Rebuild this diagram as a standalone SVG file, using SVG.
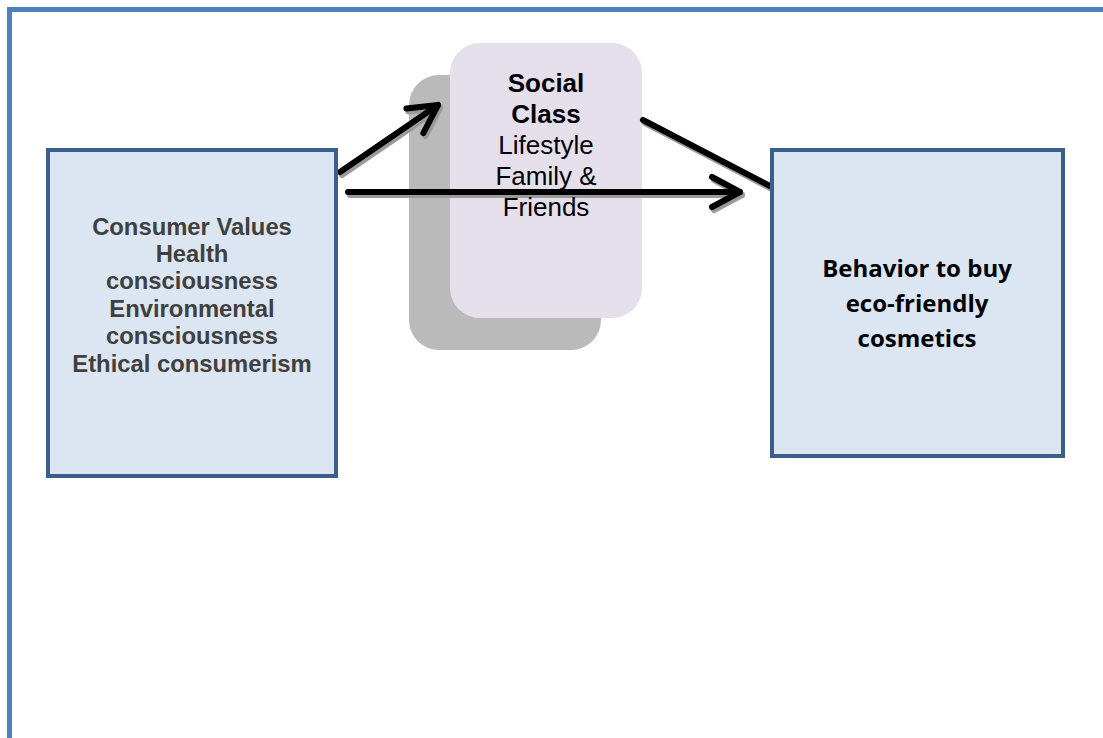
<svg xmlns="http://www.w3.org/2000/svg" width="1103" height="738" viewBox="0 0 1103 738">
<style>
.box{fill:#dce6f2;stroke:#3b5e8c;stroke-width:4}
.conn{fill:none;stroke:#000;stroke-width:6;stroke-linecap:round;stroke-linejoin:round}
.shadow{fill:none;stroke:#9a9a9a;stroke-width:6;stroke-linecap:round;stroke-linejoin:round}
.lt{font-family:"Liberation Sans",Arial,sans-serif;font-weight:bold;font-size:23.8px;fill:#404040;text-anchor:middle}
.st{font-family:"Liberation Sans",Arial,sans-serif;font-size:26px;fill:#000;text-anchor:middle}
.rt{font-family:"Open Sans",Lato,sans-serif;font-weight:bold;font-size:24px;fill:#000;text-anchor:middle}
</style>
<defs>
<marker id="ah" markerUnits="userSpaceOnUse" markerWidth="60" markerHeight="60" refX="0" refY="0" viewBox="-40 -30 60 60" orient="auto" overflow="visible">
<path d="M-28,-15 L0,0 L-28,15" fill="none" stroke="#000" stroke-width="6" stroke-linecap="round" stroke-linejoin="round"/>
</marker>
<marker id="ahs" markerUnits="userSpaceOnUse" markerWidth="60" markerHeight="60" refX="0" refY="0" viewBox="-40 -30 60 60" orient="auto" overflow="visible">
<path d="M-28,-15 L0,0 L-28,15" fill="none" stroke="#9a9a9a" stroke-width="6" stroke-linecap="round" stroke-linejoin="round"/>
</marker>
</defs>
<rect width="1103" height="738" fill="#fff"/>
<rect x="9.5" y="9.5" width="1110" height="740" fill="none" stroke="#4f81bd" stroke-width="5"/>
<g id="social">
<rect x="409" y="75" width="192" height="275" rx="30" fill="#bababa"/>
<rect x="450" y="43" width="192" height="275" rx="30" fill="#e5dfec"/>
</g>
<g id="connectors">
<g transform="translate(2,3)">
<path class="shadow" d="M340,172 L438,105" marker-end="url(#ahs)"/>
<path class="shadow" d="M348,192 L740,192" marker-end="url(#ahs)"/>
<path class="shadow" d="M643,120 L770,186"/>
</g>
<path class="conn" d="M340,172 L438,105" marker-end="url(#ah)"/>
<path class="conn" d="M348,192 L740,192" marker-end="url(#ah)"/>
<path class="conn" d="M643,120 L770,186"/>
</g>
<g id="social-text">
<text class="st" x="546" y="92" font-weight="bold">Social</text>
<text class="st" x="546" y="123" font-weight="bold">Class</text>
<text class="st" x="546" y="154">Lifestyle</text>
<text class="st" x="546" y="185">Family &amp;</text>
<text class="st" x="546" y="216">Friends</text>
</g>
<g id="consumer">
<rect class="box" x="48" y="150" width="288" height="326"/>
<text class="lt" x="192" y="235">Consumer Values</text>
<text class="lt" x="192" y="262">Health</text>
<text class="lt" x="192" y="289">consciousness</text>
<text class="lt" x="192" y="317">Environmental</text>
<text class="lt" x="192" y="344">consciousness</text>
<text class="lt" x="192" y="372">Ethical consumerism</text>
</g>
<g id="behavior">
<rect class="box" x="772" y="150" width="291" height="306"/>
<text class="rt" x="917" y="277">Behavior to buy</text>
<text class="rt" x="917" y="312">eco-friendly</text>
<text class="rt" x="917" y="347">cosmetics</text>
</g>
</svg>
